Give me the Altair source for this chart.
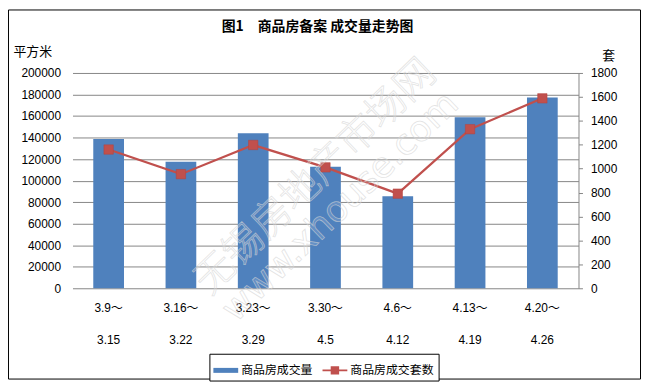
import altair as alt
import pandas as pd

# ---- data ----
PERIOD_START = ["3.9～", "3.16～", "3.23～", "3.30～", "4.6～", "4.13～", "4.20～"]
PERIOD_END = ["3.15", "3.22", "3.29", "4.5", "4.12", "4.19", "4.26"]
AREA = [138600, 117500, 144100, 113000, 85500, 158800, 177100]   # 平方米 (left axis)
UNITS = [1160, 954, 1198, 1011, 791, 1330, 1588]                 # 套 (right axis)
SERIES = ["商品房成交量", "商品房成交套数"]
LEFT_TICKS = [0, 20000, 40000, 60000, 80000, 100000, 120000, 140000, 160000, 180000, 200000]
RIGHT_TICKS = [0, 200, 400, 600, 800, 1000, 1200, 1400, 1600, 1800]
TITLE = "图1　商品房备案 成交量走势图"
LEFT_TITLE = "平方米"
RIGHT_TITLE = "套"
WATERMARK = ["无锡房地产市场网", "www.xhouse.com"]

BLUE = "#4F81BD"
RED = "#C0504D"
GRID = "#868686"
CJK = "Noto Sans CJK SC"
LATIN = "Liberation Sans, Noto Sans CJK SC"

df = pd.DataFrame({
    "label": [f"{s}|{e}" for s, e in zip(PERIOD_START, PERIOD_END)],
    "area": AREA,
    "units": UNITS,
})

BAR_PATH = "M-1,-0.2H1V0.2H-1Z"
LINE_PATH = "M-1,-0.08H1V0.08H-1Z M-0.34,-0.34H0.34V0.34H-0.34Z"
sym_expr = f"datum.value === '{SERIES[0]}' ? '{BAR_PATH}' : '{LINE_PATH}'"

x_enc = alt.X(
    "label:N", sort=None, title=None,
    scale=alt.Scale(paddingInner=0.575, paddingOuter=0.2875),
    axis=alt.Axis(labelExpr="split(datum.label, '|')", labelLineHeight=33,
                  labelBaseline="top", labelPadding=14, tickSize=0, domain=False,
                  labelAngle=0, labelFont=LATIN, labelFontSize=12, labelColor="black"),
)

bars = alt.Chart(df).transform_calculate(series=f"'{SERIES[0]}'").mark_bar().encode(
    x=x_enc,
    y=alt.Y("area:Q", scale=alt.Scale(domain=[0, 200000], nice=False),
            axis=alt.Axis(values=LEFT_TICKS, format="d", title=LEFT_TITLE, titleAngle=0,
                          titleX=-60, titleY=-22,
                          titleAlign="left", titleBaseline="middle", titleFont=CJK, titleFontSize=13,
                          titleFontWeight="normal", titleColor="black",
                          labelFont=LATIN, labelFontSize=12, labelColor="black", labelPadding=12,
                          tickSize=0, domain=False, grid=True, gridColor=GRID, gridWidth=1)),
    color=alt.Color("series:N", scale=alt.Scale(domain=SERIES, range=[BLUE, RED]),
                    legend=alt.Legend(title=None, orient="none", legendX=138, legendY=283,
                                      direction="horizontal", symbolSize=625,
                                      symbolType=alt.ExprRef(expr=sym_expr),
                                      symbolStrokeWidth=0, strokeColor="black", fillColor="white",
                                      padding=4, labelFont=CJK, labelFontSize=12, labelColor="black",
                                      labelOffset=3, columnPadding=9)),
)

y_right = alt.Y("units:Q", scale=alt.Scale(domain=[0, 1800], nice=False),
                axis=alt.Axis(orient="right", values=RIGHT_TICKS, format="d", title=RIGHT_TITLE,
                              titleAngle=0,
                              titleX=30, titleY=-18, titleAlign="center", titleBaseline="middle",
                              titleFont=CJK, titleFontSize=13, titleFontWeight="normal", titleColor="black",
                              labelFont=LATIN, labelFontSize=12, labelColor="black", labelPadding=8,
                              tickSize=4, tickColor=GRID, domain=True, domainColor=GRID, grid=False))

line = alt.Chart(df).mark_line(color=RED, strokeWidth=2.25).encode(x=x_enc, y=y_right)
points = alt.Chart(df).mark_point(shape="square", filled=True, size=90, color=RED, opacity=1,
                                  stroke="#B5413E", strokeWidth=0.5).encode(x=x_enc, y=y_right)
right_layer = alt.layer(line, points)

frame = alt.Chart(pd.DataFrame({"k": [0]})).mark_rect(
    fillOpacity=0, stroke="black", strokeWidth=1).encode(
    x=alt.value(-64.5), x2=alt.value(572.5), y=alt.value(-63.5), y2=alt.value(308.5))

title_text = alt.Chart(pd.DataFrame({"t": [TITLE]})).mark_text(
    font=CJK, fontSize=14, fontWeight="bold", color="black", align="center", baseline="middle").encode(
    x=alt.value(247), y=alt.value(-46), text="t:N")

wm_style = dict(angle=316, fill="white", fillOpacity=0.15,
                stroke="#d4d4d4", strokeWidth=0.8, strokeOpacity=0.65)
wm1 = alt.Chart(pd.DataFrame({"t": [WATERMARK[0]]})).mark_text(
    font=CJK, fontSize=40, fontWeight=300, **wm_style).encode(
    x=alt.value(245), y=alt.value(105), text="t:N")
wm2 = alt.Chart(pd.DataFrame({"t": [WATERMARK[1]]})).mark_text(
    font="DejaVu Sans", fontSize=36, **wm_style).encode(
    x=alt.value(270), y=alt.value(135), text="t:N")

chart = alt.layer(bars, right_layer, wm1, wm2, title_text, frame).resolve_scale(y="independent").properties(
    width=510, height=217,
    autosize=alt.AutoSizeParams(type="none"),
    padding={"left": 65, "top": 64, "right": 63, "bottom": 95},
    background="white",
).configure_view(stroke=None)

chart.save("out.html", embed_options={"renderer": "svg", "actions": False})
